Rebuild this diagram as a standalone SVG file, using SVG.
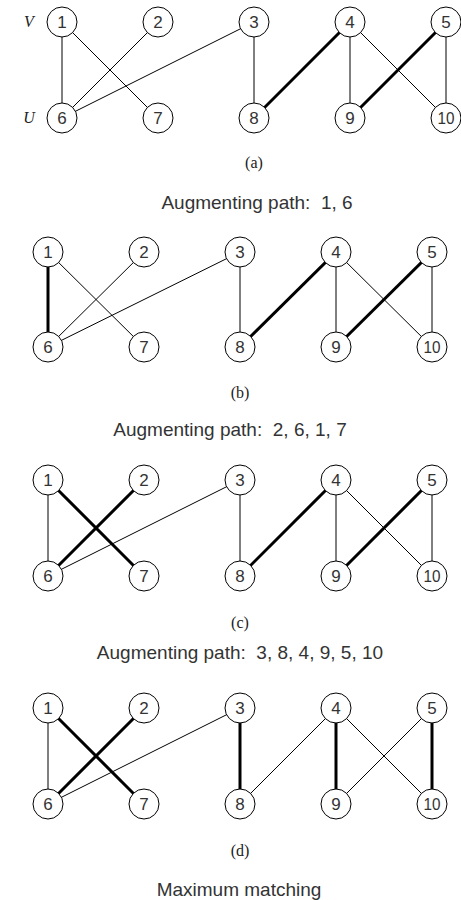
<svg xmlns="http://www.w3.org/2000/svg" width="461" height="900" viewBox="0 0 461 900">
<style>
.e{stroke:#000;stroke-width:1;fill:none}
.m{stroke:#000;stroke-width:3;fill:none}
.n circle{fill:#fff;stroke:#000;stroke-width:1}
.n text{font-family:"Liberation Sans",Arial,sans-serif;font-size:17px;fill:#333;text-anchor:middle;dominant-baseline:central}
.cap{font-family:"Liberation Serif","Times New Roman",serif;font-size:16px;fill:#222;text-anchor:middle}
.side{font-family:"Liberation Serif","Times New Roman",serif;font-size:16px;font-style:italic;fill:#222;text-anchor:middle}
.title{font-family:"Liberation Sans",Arial,sans-serif;font-size:19px;fill:#333;text-anchor:middle}
</style>

<!-- Panel (a) -->
<g id="panel-a" transform="translate(14,22)">
  <g id="a-edges">
    <line class="e" x1="48" y1="0" x2="48" y2="96"/>
    <line class="e" x1="48" y1="0" x2="144" y2="96"/>
    <line class="e" x1="144" y1="0" x2="48" y2="96"/>
    <line class="e" x1="240" y1="0" x2="48" y2="96"/>
    <line class="e" x1="240" y1="0" x2="240" y2="96"/>
    <line class="m" x1="336" y1="0" x2="240" y2="96"/>
    <line class="e" x1="336" y1="0" x2="336" y2="96"/>
    <line class="e" x1="336" y1="0" x2="432" y2="96"/>
    <line class="m" x1="432" y1="0" x2="336" y2="96"/>
    <line class="e" x1="432" y1="0" x2="432" y2="96"/>
  </g>
  <g id="a-n1" class="n"><circle cx="48" cy="0" r="15"/><text x="48" y="0">1</text></g>
  <g id="a-n2" class="n"><circle cx="144" cy="0" r="15"/><text x="144" y="0">2</text></g>
  <g id="a-n3" class="n"><circle cx="240" cy="0" r="15"/><text x="240" y="0">3</text></g>
  <g id="a-n4" class="n"><circle cx="336" cy="0" r="15"/><text x="336" y="0">4</text></g>
  <g id="a-n5" class="n"><circle cx="432" cy="0" r="15"/><text x="432" y="0">5</text></g>
  <g id="a-n6" class="n"><circle cx="48" cy="96" r="15"/><text x="48" y="96">6</text></g>
  <g id="a-n7" class="n"><circle cx="144" cy="96" r="15"/><text x="144" y="96">7</text></g>
  <g id="a-n8" class="n"><circle cx="240" cy="96" r="15"/><text x="240" y="96">8</text></g>
  <g id="a-n9" class="n"><circle cx="336" cy="96" r="15"/><text x="336" y="96">9</text></g>
  <g id="a-n10" class="n"><circle cx="432" cy="96" r="15"/><text x="432" y="96" textLength="17" lengthAdjust="spacingAndGlyphs">10</text></g>
</g>
<text class="side" x="29" y="27">V</text>
<text class="side" x="29" y="123">U</text>
<text class="cap" x="254" y="168">(a)</text>
<text class="title" x="257" y="209">Augmenting path:&#160; 1, 6</text>

<!-- Panel (b) -->
<g id="panel-b" transform="translate(0,252)">
  <g id="b-edges">
    <line class="m" x1="48" y1="0" x2="48" y2="95"/>
    <line class="e" x1="48" y1="0" x2="144" y2="95"/>
    <line class="e" x1="144" y1="0" x2="48" y2="95"/>
    <line class="e" x1="240" y1="0" x2="48" y2="95"/>
    <line class="e" x1="240" y1="0" x2="240" y2="95"/>
    <line class="m" x1="336" y1="0" x2="240" y2="95"/>
    <line class="e" x1="336" y1="0" x2="336" y2="95"/>
    <line class="e" x1="336" y1="0" x2="432" y2="95"/>
    <line class="m" x1="432" y1="0" x2="336" y2="95"/>
    <line class="e" x1="432" y1="0" x2="432" y2="95"/>
  </g>
  <g id="b-n1" class="n"><circle cx="48" cy="0" r="15"/><text x="48" y="0">1</text></g>
  <g id="b-n2" class="n"><circle cx="144" cy="0" r="15"/><text x="144" y="0">2</text></g>
  <g id="b-n3" class="n"><circle cx="240" cy="0" r="15"/><text x="240" y="0">3</text></g>
  <g id="b-n4" class="n"><circle cx="336" cy="0" r="15"/><text x="336" y="0">4</text></g>
  <g id="b-n5" class="n"><circle cx="432" cy="0" r="15"/><text x="432" y="0">5</text></g>
  <g id="b-n6" class="n"><circle cx="48" cy="95" r="15"/><text x="48" y="95">6</text></g>
  <g id="b-n7" class="n"><circle cx="144" cy="95" r="15"/><text x="144" y="95">7</text></g>
  <g id="b-n8" class="n"><circle cx="240" cy="95" r="15"/><text x="240" y="95">8</text></g>
  <g id="b-n9" class="n"><circle cx="336" cy="95" r="15"/><text x="336" y="95">9</text></g>
  <g id="b-n10" class="n"><circle cx="432" cy="95" r="15"/><text x="432" y="95" textLength="17" lengthAdjust="spacingAndGlyphs">10</text></g>
</g>
<text class="cap" x="240" y="398">(b)</text>
<text class="title" x="230" y="436">Augmenting path:&#160; 2, 6, 1, 7</text>

<!-- Panel (c) -->
<g id="panel-c" transform="translate(0,480)">
  <g id="c-edges">
    <line class="e" x1="48" y1="0" x2="48" y2="96"/>
    <line class="m" x1="48" y1="0" x2="144" y2="96"/>
    <line class="m" x1="144" y1="0" x2="48" y2="96"/>
    <line class="e" x1="240" y1="0" x2="48" y2="96"/>
    <line class="e" x1="240" y1="0" x2="240" y2="96"/>
    <line class="m" x1="336" y1="0" x2="240" y2="96"/>
    <line class="e" x1="336" y1="0" x2="336" y2="96"/>
    <line class="e" x1="336" y1="0" x2="432" y2="96"/>
    <line class="m" x1="432" y1="0" x2="336" y2="96"/>
    <line class="e" x1="432" y1="0" x2="432" y2="96"/>
  </g>
  <g id="c-n1" class="n"><circle cx="48" cy="0" r="15"/><text x="48" y="0">1</text></g>
  <g id="c-n2" class="n"><circle cx="144" cy="0" r="15"/><text x="144" y="0">2</text></g>
  <g id="c-n3" class="n"><circle cx="240" cy="0" r="15"/><text x="240" y="0">3</text></g>
  <g id="c-n4" class="n"><circle cx="336" cy="0" r="15"/><text x="336" y="0">4</text></g>
  <g id="c-n5" class="n"><circle cx="432" cy="0" r="15"/><text x="432" y="0">5</text></g>
  <g id="c-n6" class="n"><circle cx="48" cy="96" r="15"/><text x="48" y="96">6</text></g>
  <g id="c-n7" class="n"><circle cx="144" cy="96" r="15"/><text x="144" y="96">7</text></g>
  <g id="c-n8" class="n"><circle cx="240" cy="96" r="15"/><text x="240" y="96">8</text></g>
  <g id="c-n9" class="n"><circle cx="336" cy="96" r="15"/><text x="336" y="96">9</text></g>
  <g id="c-n10" class="n"><circle cx="432" cy="96" r="15"/><text x="432" y="96" textLength="17" lengthAdjust="spacingAndGlyphs">10</text></g>
</g>
<text class="cap" x="240" y="628">(c)</text>
<text class="title" x="240" y="659">Augmenting path:&#160; 3, 8, 4, 9, 5, 10</text>

<!-- Panel (d) -->
<g id="panel-d" transform="translate(0,708)">
  <g id="d-edges">
    <line class="e" x1="48" y1="0" x2="48" y2="96"/>
    <line class="m" x1="48" y1="0" x2="144" y2="96"/>
    <line class="m" x1="144" y1="0" x2="48" y2="96"/>
    <line class="e" x1="240" y1="0" x2="48" y2="96"/>
    <line class="m" x1="240" y1="0" x2="240" y2="96"/>
    <line class="e" x1="336" y1="0" x2="240" y2="96"/>
    <line class="m" x1="336" y1="0" x2="336" y2="96"/>
    <line class="e" x1="336" y1="0" x2="432" y2="96"/>
    <line class="e" x1="432" y1="0" x2="336" y2="96"/>
    <line class="m" x1="432" y1="0" x2="432" y2="96"/>
  </g>
  <g id="d-n1" class="n"><circle cx="48" cy="0" r="15"/><text x="48" y="0">1</text></g>
  <g id="d-n2" class="n"><circle cx="144" cy="0" r="15"/><text x="144" y="0">2</text></g>
  <g id="d-n3" class="n"><circle cx="240" cy="0" r="15"/><text x="240" y="0">3</text></g>
  <g id="d-n4" class="n"><circle cx="336" cy="0" r="15"/><text x="336" y="0">4</text></g>
  <g id="d-n5" class="n"><circle cx="432" cy="0" r="15"/><text x="432" y="0">5</text></g>
  <g id="d-n6" class="n"><circle cx="48" cy="96" r="15"/><text x="48" y="96">6</text></g>
  <g id="d-n7" class="n"><circle cx="144" cy="96" r="15"/><text x="144" y="96">7</text></g>
  <g id="d-n8" class="n"><circle cx="240" cy="96" r="15"/><text x="240" y="96">8</text></g>
  <g id="d-n9" class="n"><circle cx="336" cy="96" r="15"/><text x="336" y="96">9</text></g>
  <g id="d-n10" class="n"><circle cx="432" cy="96" r="15"/><text x="432" y="96" textLength="17" lengthAdjust="spacingAndGlyphs">10</text></g>
</g>
<text class="cap" x="240" y="856">(d)</text>
<text class="title" x="239" y="896">Maximum matching</text>
</svg>
